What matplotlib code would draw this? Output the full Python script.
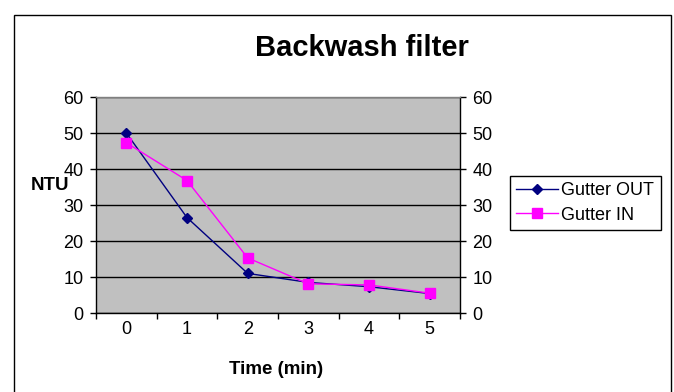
import matplotlib
matplotlib.use("Agg")
import matplotlib.pyplot as plt
from matplotlib.patches import Rectangle

plt.rcParams["font.family"] = ["Liberation Sans", "DejaVu Sans"]

time_min = [0, 1, 2, 3, 4, 5]
gutter_out = [50, 26.5, 11, 8.5, 7.3, 5.4]
gutter_in = [47.3, 36.8, 15.3, 8.1, 7.8, 5.5]
y_ticks = [0, 10, 20, 30, 40, 50, 60]

fig = plt.figure(figsize=(6.74, 3.92), dpi=100)
ax = fig.add_axes([96 / 674, 1 - 313 / 392, 364 / 674, 216 / 392])
ax.set_facecolor("#C0C0C0")

ax.plot(time_min, gutter_out, color="#000080", marker="D", markersize=5,
        linewidth=1, label="Gutter OUT", zorder=3)
ax.plot(time_min, gutter_in, color="#FF00FF", marker="s", markersize=6.5,
        linewidth=1, label="Gutter IN", zorder=4)

ax.set_ylim(0, 60)
ax.set_yticks(y_ticks)
ax.set_xlim(-0.5, 5.5)
ax.set_xticks([x - 0.5 for x in time_min] + [5.5])
ax.set_xticklabels([])
ax.set_xticks(time_min, minor=True)
ax.set_xticklabels([str(t) for t in time_min], minor=True)
ax.tick_params(axis="x", which="minor", length=0, pad=6, labelsize=13)
ax.tick_params(axis="x", which="major", direction="out", length=4, width=1)
ax.tick_params(axis="y", direction="out", length=4, width=1, pad=5,
               labelsize=13, left=True, right=True, labelleft=True, labelright=True)

ax.grid(axis="y", color="black", linewidth=1)
ax.set_axisbelow(True)
for s in ax.spines.values():
    s.set_color("black")
    s.set_linewidth(1)
ax.spines["top"].set_color("#808080")

fig.text(362 / 674, 1 - 48 / 392, "Backwash filter", ha="center", va="center",
         fontsize=21, fontweight="bold")
fig.text(50 / 674, 1 - 186 / 392, "NTU", ha="center", va="center",
         fontsize=13.5, fontweight="bold")
fig.text(276 / 674, 1 - 370 / 392, "Time (min)", ha="center", va="center",
         fontsize=13.5, fontweight="bold")

leg = ax.legend(loc="center left", bbox_to_anchor=(510 / 674, 1 - 203 / 392),
                bbox_transform=fig.transFigure, fancybox=False, framealpha=1,
                edgecolor="black", fontsize=13, handlelength=2.3,
                handletextpad=0.2, borderpad=0.35, labelspacing=0.4,
                borderaxespad=0)
leg.get_frame().set_linewidth(1)

fig.add_artist(Rectangle((14 / 674, -0.1), 657 / 674, 1.1 - 15 / 392,
                         transform=fig.transFigure, fill=False,
                         edgecolor="black", linewidth=1, clip_on=False))

fig.savefig("out.png", dpi=100)
